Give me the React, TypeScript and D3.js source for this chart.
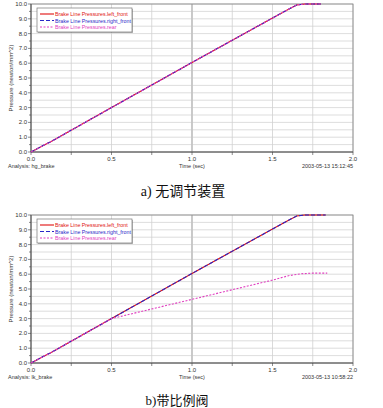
import React from "react";
import * as d3 from "d3";

const xTicks = [0, 0.5, 1.0, 1.5, 2.0];
const yTicks = [0, 1, 2, 3, 4, 5, 6, 7, 8, 9, 10];

const tA = [0, 0.1, 0.12, 0.5, 1.0, 1.5, 1.6, 1.65, 1.7, 1.8];
const frontA = [0, 0.58, 0.68, 3.0, 6.05, 9.05, 9.65, 9.93, 10.0, 10.0];

const tB = [0, 0.1, 0.12, 0.5, 1.0, 1.5, 1.6, 1.65, 1.7, 1.83];
const frontB = [0, 0.58, 0.68, 3.0, 6.05, 9.05, 9.65, 9.93, 10.0, 10.0];
const tRear = [0, 0.1, 0.12, 0.5, 1.0, 1.5, 1.6, 1.68, 1.75, 1.84];
const rearB = [0, 0.58, 0.68, 3.0, 4.3, 5.6, 5.9, 6.03, 6.07, 6.07];

const seriesNames = [
  "Brake Line Pressures.left_front",
  "Brake Line Pressures.right_front",
  "Brake Line Pressures.rear",
];
const seriesColors = ["#e01010", "#2828c8", "#e040c0"];

type PanelProps = {
  top: number;
  analysis: string;
  date: string;
  front: number[];
  tFront: number[];
  rear: number[];
  tR: number[];
  caption: string;
  captionX: number;
  captionY: number;
  captionSize: number;
};

function Panel(p: PanelProps) {
  const left = 31, right = 353;
  const bottom = p.top + 148;
  const x = d3.scaleLinear().domain([0, 2]).range([left, right]);
  const y = d3.scaleLinear().domain([0, 10]).range([bottom, p.top]);
  const line = d3.line<[number, number]>().x((d) => x(d[0])).y((d) => y(d[1]));
  const frontPts = p.tFront.map((t, i) => [t, p.front[i]] as [number, number]);
  const rearPts = p.tR.map((t, i) => [t, p.rear[i]] as [number, number]);
  const vGrid = d3.range(0, 2.001, 0.25);
  const hGrid = d3.range(0, 10.001, 0.5);
  const font = "Arial, 'Liberation Sans', sans-serif";
  return (
    <g>
      {hGrid.map((v) => (
        <line key={"h" + v} x1={left} x2={right} y1={y(v)} y2={y(v)} stroke="#d4d4d4" strokeWidth={0.8} />
      ))}
      {vGrid.map((v) => (
        <line key={"v" + v} x1={x(v)} x2={x(v)} y1={p.top} y2={bottom}
          stroke={v === 1 ? "#c4c4c4" : "#d0d0d0"} strokeWidth={v === 1 ? 1.8 : 0.8} />
      ))}
      <rect x={left} y={p.top} width={right - left} height={bottom - p.top} fill="none" stroke="#808080" strokeWidth={0.8} />
      <line x1={left} x2={left} y1={p.top} y2={bottom} stroke="#404040" strokeWidth={0.8} />
      <line x1={left} x2={right} y1={bottom} y2={bottom} stroke="#404040" strokeWidth={0.8} />
      {hGrid.map((v) => (
        <line key={"yt" + v} x1={left - (v % 1 === 0 ? 3 : 2)} x2={left} y1={y(v)} y2={y(v)} stroke="#404040" strokeWidth={0.6} />
      ))}
      {vGrid.map((v) => (
        <line key={"xt" + v} x1={x(v)} x2={x(v)} y1={bottom} y2={bottom + 3} stroke="#404040" strokeWidth={0.6} />
      ))}
      {yTicks.map((v) => (
        <text key={"yl" + v} x={left - 4} y={y(v) + 2} fontSize={6} textAnchor="end" fill="#333" fontFamily={font}>
          {v.toFixed(1)}
        </text>
      ))}
      {xTicks.map((v) => (
        <text key={"xl" + v} x={x(v)} y={bottom + 9} fontSize={6} textAnchor="middle" fill="#333" fontFamily={font}>
          {v.toFixed(1)}
        </text>
      ))}
      <text x={8} y={bottom + 16} fontSize={5.5} fill="#333" fontFamily={font}>{p.analysis}</text>
      <text x={x(1)} y={bottom + 16} fontSize={5.5} fill="#333" textAnchor="middle" fontFamily={font}>Time (sec)</text>
      <text x={right} y={bottom + 16} fontSize={5.5} fill="#333" textAnchor="end" fontFamily={font}>{p.date}</text>
      <text transform={`translate(13,${(p.top + bottom) / 2}) rotate(-90)`} fontSize={6} fill="#333" textAnchor="middle" fontFamily={font}>
        Pressure (newton/mm^2)
      </text>
      <path d={line(frontPts) || ""} fill="none" stroke={seriesColors[0]} strokeWidth={1.1} />
      <path d={line(frontPts) || ""} fill="none" stroke={seriesColors[1]} strokeWidth={1.1} strokeDasharray="4,2" />
      <path d={line(rearPts) || ""} fill="none" stroke={seriesColors[2]} strokeWidth={1.1} strokeDasharray="2,1.5" />
      <g>
        <rect x={38} y={p.top + 5} width={95} height={24} fill="#555" opacity={0.4} />
        <rect x={37} y={p.top + 4} width={95} height={24} fill="#fff" stroke="#777" strokeWidth={0.7} />
        {seriesNames.map((n, i) => (
          <g key={n}>
            <line x1={40} x2={54} y1={p.top + 10 + i * 6.5} y2={p.top + 10 + i * 6.5}
              stroke={seriesColors[i]} strokeWidth={1.1}
              strokeDasharray={i === 0 ? undefined : i === 1 ? "4,2" : "2,1.5"} />
            <text x={55} y={p.top + 12 + i * 6.5} fontSize={5.3} fill={seriesColors[i]} fontFamily={font}>{n}</text>
          </g>
        ))}
      </g>
      <text x={p.captionX} y={p.captionY} fontSize={p.captionSize} textAnchor="middle" fill="#111"
        fontFamily="'Liberation Serif', 'DejaVu Serif', 'Noto Sans CJK SC', serif">
        {p.caption}
      </text>
    </g>
  );
}

export default function App() {
  return (
    <svg width={383} height={408} style={{ position: "absolute", left: 0, top: 0, background: "#fff" }}>
      <rect width={383} height={408} fill="#fff" />
      <Panel top={4} analysis="Analysis:  hg_brake" date="2003-05-13 15:12:45"
        front={frontA} tFront={tA} rear={frontA} tR={tA}
        caption="a) 无调节装置" captionX={183} captionY={196} captionSize={14} />
      <Panel top={215} analysis="Analysis:  lk_brake" date="2003-05-13 10:58:22"
        front={frontB} tFront={tB} rear={rearB} tR={tRear}
        caption="b)带比例阀" captionX={177} captionY={405} captionSize={13} />
    </svg>
  );
}
